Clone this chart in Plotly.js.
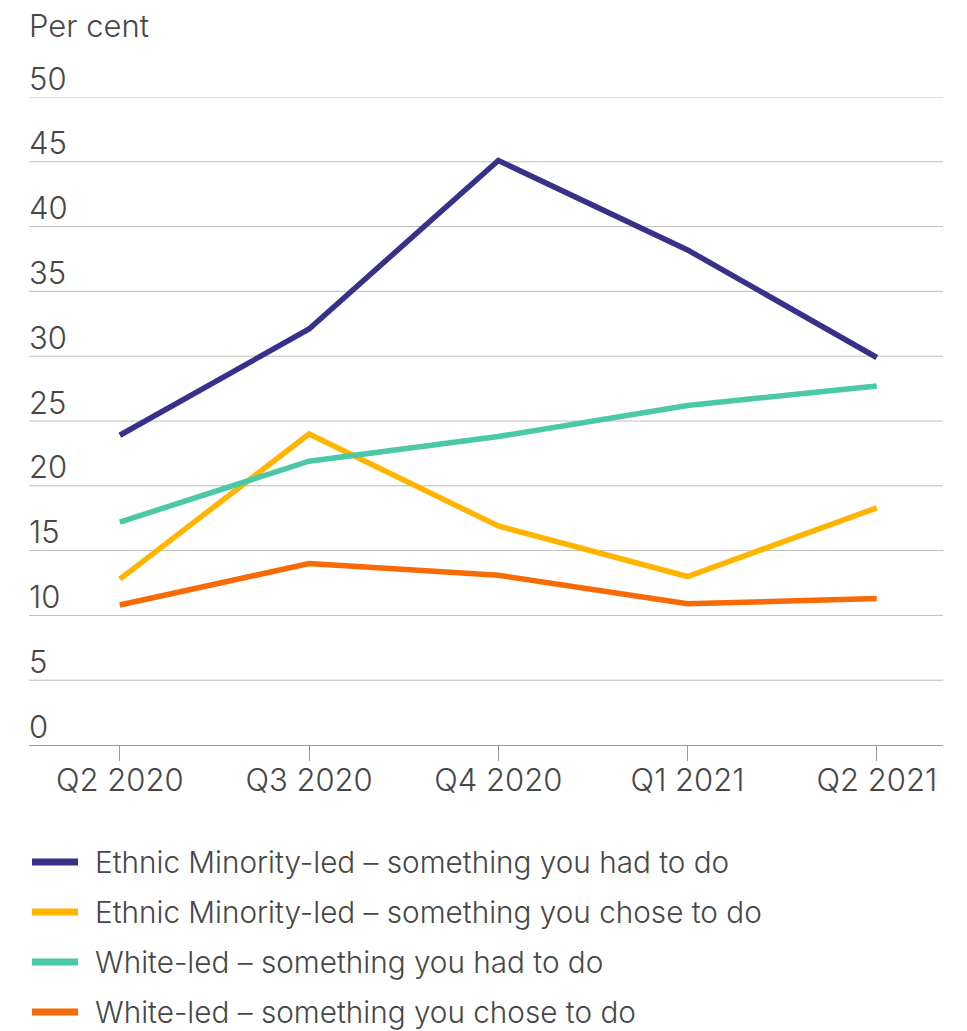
<!DOCTYPE html>
<html>
<head>
<meta charset="utf-8">
<script src="https://cdn.plot.ly/plotly-3.0.1.min.js"></script>
<style>html,body{margin:0;padding:0;background:#fff;}#chart{width:967px;height:1031px;}</style>
</head>
<body>
<div id="chart"></div>
<script>
const categories = ["Q2 2020", "Q3 2020", "Q4 2020", "Q1 2021", "Q2 2021"];
const ethnicHad = [23.9, 32.1, 45.1, 38.2, 29.9];
const ethnicChose = [12.8, 24.0, 16.9, 13.0, 18.3];
const whiteHad = [17.2, 21.9, 23.8, 26.2, 27.7];
const whiteChose = [10.8, 14.0, 13.1, 10.9, 11.3];
const seriesNames = [
  "Ethnic Minority-led \u2013 something you had to do",
  "Ethnic Minority-led \u2013 something you chose to do",
  "White-led \u2013 something you had to do",
  "White-led \u2013 something you chose to do"
];
const seriesColors = ["#38318A", "#FFB500", "#4BC8A6", "#F76A05"];
const yTicks = [0, 5, 10, 15, 20, 25, 30, 35, 40, 45, 50];
const yTitle = "Per cent";

const FONT = "Inter, 'Open Sans', sans-serif";
const TXT = "#474747";
const WEIGHT = 300;
const seriesData = [ethnicHad, ethnicChose, whiteHad, whiteChose];

// plot area geometry (px) used to place the manual legend
const PLOT_TOP = 97, PLOT_BOTTOM = 745, PLOT_LEFT = 29, PLOT_W = 914;
const pxToPaperY = py => (PLOT_BOTTOM - py) / (PLOT_BOTTOM - PLOT_TOP);
const pxToPaperX = px => (px - PLOT_LEFT) / PLOT_W;

const traces = seriesData.map((vals, i) => ({
  type: "scatter",
  mode: "lines",
  x: categories,
  y: vals,
  name: seriesNames[i],
  line: {color: seriesColors[i], width: 5.5},
  showlegend: false,
  hoverinfo: "x+y+name"
}));

const shapes = [];
const annotations = [];

// gridlines
yTicks.forEach(t => {
  if (t === 0) return;
  shapes.push({
    type: "line", xref: "paper", yref: "y", x0: 0, x1: 1, y0: t, y1: t,
    line: {color: "#bdbdbd", width: 1}, layer: "below"
  });
});

// y tick labels above gridlines
yTicks.forEach(t => {
  annotations.push({
    xref: "paper", yref: "y", x: 0, y: t,
    text: String(t), showarrow: false,
    xanchor: "left", yanchor: "middle", yshift: 19, xshift: -2,
    font: {family: FONT, size: 31, color: TXT, weight: WEIGHT}
  });
});
annotations.push({
  xref: "paper", yref: "paper", x: 0, y: 1, yshift: 72, xshift: -2,
  text: yTitle, showarrow: false, xanchor: "left", yanchor: "middle",
  font: {family: FONT, size: 31, color: TXT, weight: WEIGHT}
});

// manual legend
const legendRows = [862, 912, 962, 1012];
seriesNames.forEach((name, i) => {
  const py = pxToPaperY(legendRows[i]);
  shapes.push({
    type: "line", xref: "paper", yref: "paper",
    x0: pxToPaperX(32), x1: pxToPaperX(78), y0: py, y1: py,
    line: {color: seriesColors[i], width: 7}
  });
  annotations.push({
    xref: "paper", yref: "paper", x: pxToPaperX(93), y: py,
    text: name, showarrow: false, xanchor: "left", yanchor: "middle",
    font: {family: FONT, size: 29.7, color: TXT, weight: WEIGHT}
  });
});

const layout = {
  width: 967, height: 1031,
  margin: {l: PLOT_LEFT, r: 967 - PLOT_LEFT - PLOT_W, t: PLOT_TOP, b: 1031 - PLOT_BOTTOM, autoexpand: false},
  paper_bgcolor: "#ffffff", plot_bgcolor: "#ffffff",
  showlegend: false,
  xaxis: {
    type: "category",
    range: [-0.48, 4.35],
    showgrid: false, zeroline: false,
    showline: true, linecolor: "#9a9a9a", linewidth: 1,
    ticks: "outside", ticklen: 15, tickcolor: "#9a9a9a", tickwidth: 1,
    ticklabelstandoff: -7,
    tickfont: {family: FONT, size: 31, color: TXT, weight: WEIGHT},
    fixedrange: true
  },
  yaxis: {
    range: [0, 50],
    showticklabels: false,
    showgrid: false,
    zeroline: false, showline: false,
    fixedrange: true
  },
  shapes: shapes,
  annotations: annotations
};

Plotly.newPlot("chart", traces, layout, {displayModeBar: false});
</script>
</body>
</html>
